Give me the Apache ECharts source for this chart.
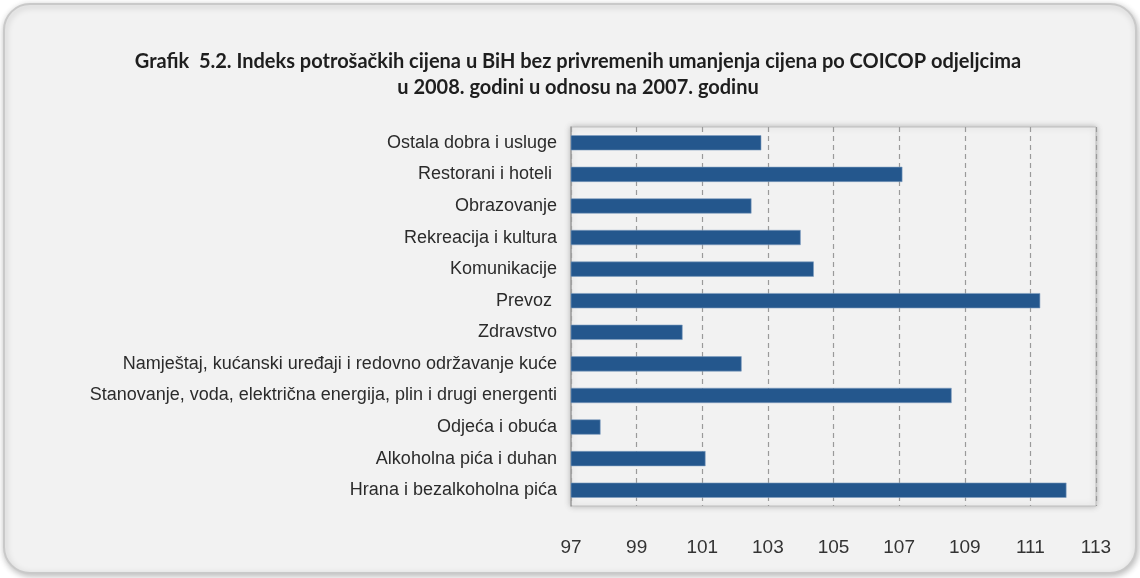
<!DOCTYPE html>
<html>
<head>
<meta charset="utf-8">
<script src="https://cdn.jsdelivr.net/npm/echarts@6/dist/echarts.min.js"></script>
<style>
  html, body { margin: 0; padding: 0; background: #ffffff; }
  #main { width: 1140px; height: 578px; }
</style>
</head>
<body>
<div id="main"></div>
<script>
// kategorije (odozgo prema dolje)
const categories = [
  'Ostala dobra i usluge',
  'Restorani i hoteli ',
  'Obrazovanje',
  'Rekreacija i kultura',
  'Komunikacije',
  'Prevoz ',
  'Zdravstvo',
  'Namještaj, kućanski uređaji i redovno održavanje kuće',
  'Stanovanje, voda, električna energija, plin i drugi energenti',
  'Odjeća i obuća',
  'Alkoholna pića i duhan',
  'Hrana i bezalkoholna pića'
];
// indeksi 2008/2007
const values = [102.8, 107.1, 102.5, 104.0, 104.4, 111.3, 100.4, 102.2, 108.6, 97.9, 101.1, 112.1];
const axisMin = 97;
const axisMax = 113;
const axisStep = 2;

const titleLines = [
  'Grafik  5.2. Indeks potrošačkih cijena u BiH bez privremenih umanjenja cijena po COICOP odjeljcima',
  'u 2008. godini u odnosu na 2007. godinu'
];

const chart = echarts.init(document.getElementById('main'), null, { renderer: 'canvas' });

const labelFont = "'Liberation Sans Narrow', 'Liberation Sans', Arial, sans-serif";

let option = {
  backgroundColor: '#ffffff',
  animation: false,
  graphic: [
    {
      type: 'rect',
      z: -10,
      shape: { x: 4, y: 4, width: 1132, height: 569, r: 26 },
      style: {
        fill: '#f2f2f2',
        stroke: '#c9c9c9',
        lineWidth: 2,
        shadowBlur: 6,
        shadowColor: 'rgba(0,0,0,0.25)',
        shadowOffsetX: 1,
        shadowOffsetY: 2
      }
    }
  ],
  title: {
    text: titleLines.join('\n'),
    left: 573,
    top: 44,
    textAlign: 'center',
    textStyle: {
      fontFamily: "Lato, 'Open Sans', sans-serif",
      fontWeight: 'bold',
      fontSize: 20,
      lineHeight: 26,
      color: '#1e1e1e'
    }
  },
  grid: {
    left: 571,
    right: 44,
    top: 127,
    bottom: 72,
    show: true,
    backgroundColor: '#f2f2f2',
    borderColor: '#bdbdbd',
    borderWidth: 1,
    shadowBlur: 6,
    shadowColor: 'rgba(0,0,0,0.25)'
  },
  xAxis: {
    type: 'value',
    min: axisMin,
    max: axisMax,
    interval: axisStep,
    axisLine: { show: false },
    axisTick: { show: false },
    axisLabel: {
      margin: 32,
      fontFamily: labelFont,
      fontSize: 19,
      color: '#333333'
    },
    splitLine: {
      show: true,
      lineStyle: { color: '#9a9a9a', type: [5, 4], width: 1.2 }
    }
  },
  yAxis: {
    type: 'category',
    data: categories,
    inverse: true,
    axisLine: { show: true, lineStyle: { color: '#a0a0a0', width: 1.5 } },
    axisTick: { show: false },
    axisLabel: {
      margin: 14,
      fontFamily: labelFont,
      fontSize: 18,
      color: '#2b2b2b'
    }
  },
  series: [
    {
      type: 'bar',
      data: values,
      barWidth: '48%',
      itemStyle: {
        color: '#24578d',
        borderColor: '#7f9dc0',
        borderWidth: 0.6
      }
    }
  ]
};

chart.setOption(option);
</script>
</body>
</html>
